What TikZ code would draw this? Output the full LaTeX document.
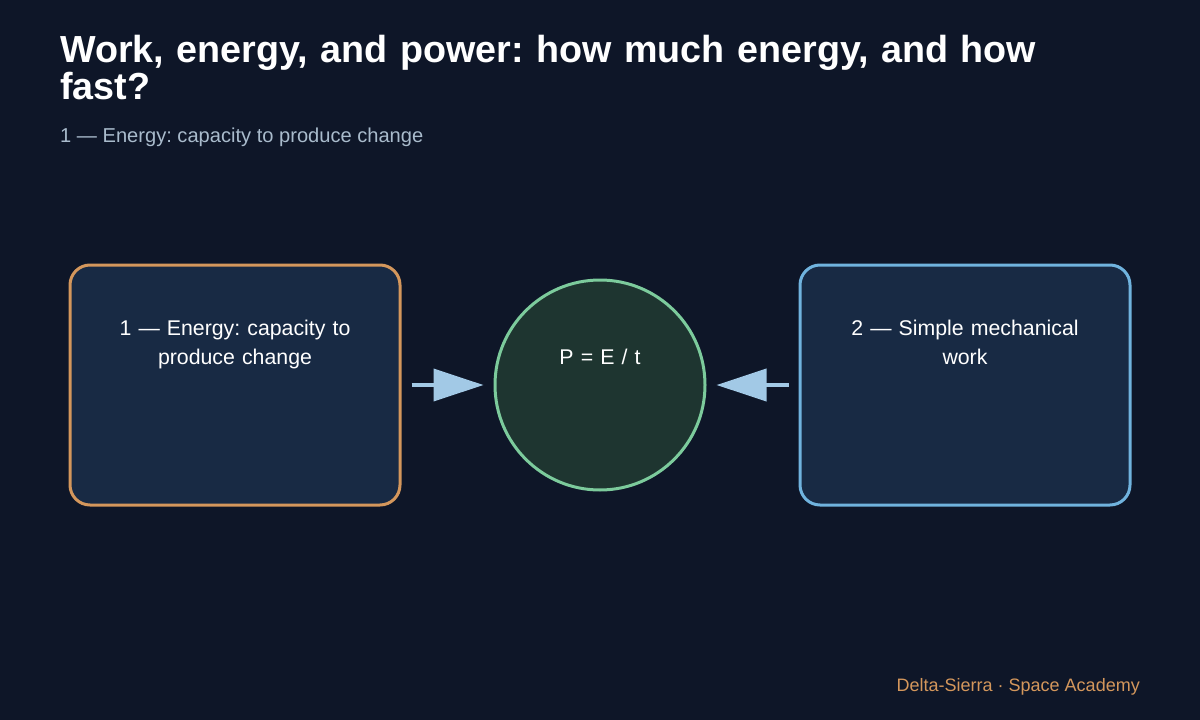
\documentclass[tikz,border=0pt]{standalone}
\usepackage{fontspec}
\setmainfont{Liberation Sans}
\usetikzlibrary{arrows.meta}
\definecolor{bgcol}{HTML}{0E1628}
\definecolor{boxfill}{HTML}{182A44}
\definecolor{orangeline}{HTML}{D4975C}
\definecolor{blueline}{HTML}{70B3DE}
\definecolor{circfill}{HTML}{1E3530}
\definecolor{greenline}{HTML}{7CCB9C}
\definecolor{arrowcol}{HTML}{A2C9E6}
\definecolor{subcol}{HTML}{A9BBCC}
\tikzset{
	panel/.style={draw, line width=3pt, fill=boxfill, rounded corners=20pt, minimum width=330pt, minimum height=240pt, inner sep=0pt},
	paneltext/.style={text=white, text width=300pt, align=center, inner sep=0pt, font=\fontsize{21.3}{29}\selectfont\frenchspacing, anchor=base},
	feed/.style={draw=arrowcol, line width=4pt, -{Triangle[length=50pt,width=32pt]}, shorten >=10pt, shorten <=10pt}
}

\begin{document}
\begin{tikzpicture}[x=1pt,y=-1pt]
	\fill[bgcol] (0,0) rectangle (1200,720);
	\useasboundingbox (0,0) rectangle (1200,720);
	\node[anchor=base west, inner sep=0pt, text=white, text width=1100pt, align=left, font=\fontsize{37.7}{37}\selectfont\bfseries\frenchspacing] (title) at (60,62) {Work, energy, and power: how much energy, and how\\fast?};
	\node[anchor=base west, inner sep=0pt, text=subcol, font=\fontsize{20.1}{24}\selectfont\frenchspacing] (subtitle) at (60,142) {1 — Energy: capacity to produce change};
	\node[panel, draw=orangeline] (energy) at (235,385) {};
	\node[panel, draw=blueline] (work) at (965,385) {};
	\node[circle, draw=greenline, line width=3pt, fill=circfill, minimum size=210pt, inner sep=0pt] (power) at (600,385) {};
	\node[paneltext] (energytext) at (235,335) {1 — Energy: capacity to\\produce change};
	\node[paneltext] (worktext) at (965,335) {2 — Simple mechanical\\work};
	\node[paneltext] (powertext) at (600,364) {P = E / t};
	\draw[feed] (energy) -- (power);
	\draw[feed] (work) -- (power);
	\node[anchor=base east, inner sep=0pt, text=orangeline, font=\fontsize{18}{22}\selectfont] (footer) at (1140,691) {Delta-Sierra · Space Academy};
\end{tikzpicture}
\end{document}
